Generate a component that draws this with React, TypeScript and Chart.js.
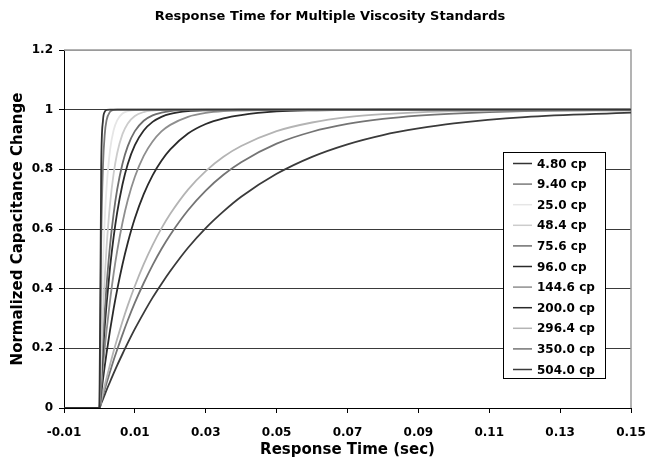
import React, { useEffect, useRef } from 'react';
import { Chart, registerables } from 'chart.js';

Chart.register(...registerables);

const xValues = [-0.01, 0, 0.0005, 0.001, 0.0015, 0.002, 0.003, 0.004, 0.005, 0.0065, 0.008, 0.01, 0.0125, 0.015, 0.0175, 0.02, 0.025, 0.03, 0.035, 0.04, 0.05, 0.06, 0.07, 0.08, 0.09, 0.1, 0.12, 0.15];

const seriesLabels = ['4.80 cp', '9.40 cp', '25.0 cp', '48.4 cp', '75.6 cp', '96.0 cp', '144.6 cp', '200.0 cp', '296.4 cp', '350.0 cp', '504.0 cp'];
const seriesColors = ['#333333', '#7a7a7a', '#e6e6e6', '#cccccc', '#6e6e6e', '#2a2a2a', '#8e8e8e', '#2a2a2a', '#b4b4b4', '#747474', '#3a3a3a'];

const s480 = [0, 0, 0.81, 0.964, 0.993, 0.999, 1, 1, 1, 1, 1, 1, 1, 1, 1, 1, 1, 1, 1, 1, 1, 1, 1, 1, 1, 1, 1, 1];
const s940 = [0, 0, 0.565, 0.811, 0.918, 0.964, 0.993, 0.999, 1, 1, 1, 1, 1, 1, 1, 1, 1, 1, 1, 1, 1, 1, 1, 1, 1, 1, 1, 1];
const s250 = [0, 0, 0.283, 0.487, 0.632, 0.736, 0.865, 0.931, 0.964, 0.987, 0.995, 0.999, 1, 1, 1, 1, 1, 1, 1, 1, 1, 1, 1, 1, 1, 1, 1, 1];
const s484 = [0, 0, 0.175, 0.319, 0.438, 0.537, 0.685, 0.785, 0.854, 0.918, 0.954, 0.979, 0.992, 0.997, 0.999, 1, 1, 1, 1, 1, 1, 1, 1, 1, 1, 1, 1, 1];
const s756 = [0, 0, 0.124, 0.231, 0.326, 0.409, 0.546, 0.651, 0.732, 0.819, 0.878, 0.928, 0.963, 0.981, 0.99, 0.995, 0.999, 1, 1, 1, 1, 1, 1, 1, 1, 1, 1, 1];
const s960 = [0, 0, 0.101, 0.192, 0.273, 0.347, 0.472, 0.573, 0.655, 0.749, 0.818, 0.881, 0.93, 0.959, 0.976, 0.986, 0.995, 0.998, 0.999, 1, 1, 1, 1, 1, 1, 1, 1, 1];
const s1446 = [0, 0, 0.072, 0.139, 0.201, 0.258, 0.361, 0.45, 0.526, 0.621, 0.697, 0.775, 0.845, 0.893, 0.927, 0.949, 0.976, 0.989, 0.995, 0.997, 0.999, 1, 1, 1, 1, 1, 1, 1];
const s2000 = [0, 0, 0.049, 0.096, 0.141, 0.183, 0.261, 0.332, 0.396, 0.481, 0.554, 0.636, 0.717, 0.78, 0.829, 0.867, 0.92, 0.952, 0.971, 0.982, 0.994, 0.998, 0.999, 1, 1, 1, 1, 1];
const s2964 = [0, 0, 0.026, 0.051, 0.076, 0.1, 0.146, 0.19, 0.231, 0.29, 0.344, 0.409, 0.482, 0.546, 0.602, 0.651, 0.732, 0.794, 0.842, 0.878, 0.928, 0.957, 0.975, 0.985, 0.991, 0.995, 0.998, 1];
const s3500 = [0, 0, 0.021, 0.043, 0.063, 0.083, 0.122, 0.16, 0.195, 0.246, 0.294, 0.353, 0.419, 0.479, 0.533, 0.581, 0.663, 0.729, 0.782, 0.824, 0.886, 0.926, 0.952, 0.969, 0.98, 0.987, 0.995, 0.998];
const s5040 = [0, 0, 0.015, 0.03, 0.045, 0.06, 0.088, 0.116, 0.143, 0.181, 0.218, 0.265, 0.319, 0.37, 0.416, 0.459, 0.537, 0.603, 0.659, 0.708, 0.785, 0.842, 0.884, 0.915, 0.937, 0.954, 0.975, 0.99];

const xTicks = [-0.01, 0.01, 0.03, 0.05, 0.07, 0.09, 0.11, 0.13, 0.15];
const yTicks = [0, 0.2, 0.4, 0.6, 0.8, 1, 1.2];

const chartTitle = 'Response Time for Multiple Viscosity Standards';
const FONT = '"DejaVu Sans", "Liberation Sans", sans-serif';

export default function App() {
  const ref = useRef<HTMLCanvasElement>(null);

  useEffect(() => {
    document.body.style.margin = '0';
    const series = [s480, s940, s250, s484, s756, s960, s1446, s2000, s2964, s3500, s5040];
    const datasets = series.map((s, i) => ({
      label: seriesLabels[i],
      data: s.map((y, j) => ({ x: xValues[j], y })),
      borderColor: seriesColors[i],
      backgroundColor: seriesColors[i],
      borderWidth: 1.8,
      pointRadius: 0,
      fill: false,
      cubicInterpolationMode: 'monotone' as const,
    }));

    const framePlugin = {
      id: 'frame',
      beforeDatasetsDraw(chart: any) {
        const { ctx, chartArea: a } = chart;
        ctx.save();
        ctx.strokeStyle = '#9a9a9a';
        ctx.lineWidth = 1.5;
        ctx.beginPath();
        ctx.moveTo(a.left, a.top);
        ctx.lineTo(a.right, a.top);
        ctx.lineTo(a.right, a.bottom);
        ctx.stroke();
        ctx.restore();
      },
    };

    const titleAndLegendPlugin = {
      id: 'boxLegend',
      afterDraw(chart: any) {
        const { ctx, chartArea: a } = chart;
        ctx.save();
        // title
        ctx.font = 'bold 13px ' + FONT;
        ctx.fillStyle = '#000000';
        ctx.textAlign = 'center';
        ctx.textBaseline = 'middle';
        ctx.fillText(chartTitle, chart.width / 2 + 7, 17);

        // legend box
        const left = a.right - 128;
        const top = a.top + 102;
        const w = 102;
        const h = 226;
        ctx.fillStyle = '#ffffff';
        ctx.fillRect(left, top, w, h);
        ctx.strokeStyle = '#000000';
        ctx.lineWidth = 1;
        ctx.strokeRect(left + 0.5, top + 0.5, w, h);
        ctx.font = 'bold 12px ' + FONT;
        ctx.textBaseline = 'middle';
        ctx.textAlign = 'left';
        chart.data.datasets.forEach((ds: any, i: number) => {
          const y = top + 11.5 + i * 20.6;
          ctx.strokeStyle = ds.borderColor;
          ctx.lineWidth = 1.5;
          ctx.beginPath();
          ctx.moveTo(left + 10, y);
          ctx.lineTo(left + 29, y);
          ctx.stroke();
          ctx.fillStyle = '#000000';
          ctx.fillText(ds.label, left + 34, y + 1);
        });
        ctx.restore();
      },
    };

    const chart = new Chart(ref.current as HTMLCanvasElement, {
      type: 'line',
      data: { datasets },
      options: {
        animation: false,
        responsive: true,
        maintainAspectRatio: false,
        layout: { padding: { left: 0, right: 15, top: 50, bottom: 0 } },
        plugins: {
          legend: { display: false },
          tooltip: { enabled: false },
          title: { display: false },
        },
        scales: {
          x: {
            type: 'linear',
            min: -0.01,
            max: 0.15,
            afterBuildTicks: (s: any) => {
              s.ticks = xTicks.map((v) => ({ value: v }));
            },
            afterFit: (s: any) => {
              s.height = 53;
              s.paddingLeft = 0;
              s.paddingRight = 0;
            },
            ticks: {
              autoSkip: false,
              maxRotation: 0,
              color: '#000',
              padding: 13,
              font: { family: FONT, size: 12, weight: 'bold' },
              callback: (v: any) => Number(v).toFixed(2),
            },
            grid: { drawOnChartArea: false, tickLength: 5, color: '#000', tickColor: '#000' },
            border: { color: '#000', width: 1 },
            title: {
              display: true,
              text: 'Response Time (sec)',
              color: '#000',
              font: { family: FONT, size: 15, weight: 'bold' },
              padding: { top: 0, bottom: 2 },
            },
          },
          y: {
            type: 'linear',
            min: 0,
            max: 1.2,
            afterBuildTicks: (s: any) => {
              s.ticks = yTicks.map((v) => ({ value: v }));
            },
            afterFit: (s: any) => {
              s.width = 64;
              s.paddingTop = 0;
              s.paddingBottom = 0;
            },
            ticks: {
              color: '#000',
              padding: 6,
              font: { family: FONT, size: 12, weight: 'bold' },
              callback: (v: any) => String(Math.round(Number(v) * 10) / 10),
            },
            grid: {
              color: (c: any) => (c.tick && c.tick.value === 1.2 ? '#9a9a9a' : '#3a3a3a'),
              tickColor: '#000',
              tickLength: 5,
              lineWidth: 1,
            },
            border: { color: '#000', width: 1 },
            title: {
              display: true,
              text: 'Normalized Capacitance Change',
              color: '#000',
              font: { family: FONT, size: 15, weight: 'bold' },
              padding: { top: 9, bottom: 0 },
            },
          },
        },
      } as any,
      plugins: [framePlugin, titleAndLegendPlugin],
    });

    return () => chart.destroy();
  }, []);

  return (
    <div style={{ position: 'fixed', left: 0, top: 0, width: 646, height: 461 }}>
      <canvas ref={ref} />
    </div>
  );
}
